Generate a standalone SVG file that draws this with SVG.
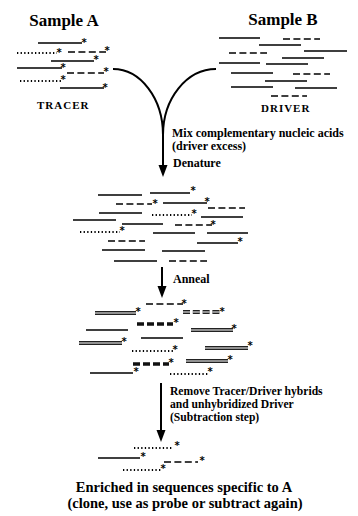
<svg xmlns="http://www.w3.org/2000/svg" width="358" height="516" viewBox="0 0 358 516">
<style>
text{font-family:"Liberation Serif","Times New Roman",serif;font-weight:bold;fill:#000}
.h{font-size:17px;text-anchor:middle}
.c{font-size:11px;letter-spacing:1px}
.l{font-size:12px}
.r{font-size:11.6px}
.e{font-size:14.5px;text-anchor:middle}
.st{font-family:"DejaVu Sans",sans-serif;font-size:10px;text-anchor:middle;opacity:.99}
.s,.d,.o,.t,.w1,.w2,.wd1,.wd2{fill:none}
.s{stroke:#000;stroke-width:1.6}
.d{stroke:#000;stroke-width:1.6;stroke-dasharray:7 3.4}
.o{stroke:#000;stroke-width:1.8;stroke-dasharray:1.3 2.3}
.t{stroke:#111;stroke-width:3.4;stroke-dasharray:7 3}
.w1{stroke:#222;stroke-width:3.8}
.w2{stroke:#fff;stroke-width:1.1}
.wd1{stroke:#222;stroke-width:3.8;stroke-dasharray:7 2.8}
.wd2{stroke:#fff;stroke-width:1.1;stroke-dasharray:7 2.8}
.cn{fill:none;stroke:#000;stroke-width:2}
.ah{fill:#000}
</style>
<g id="sampleA">
<text class="h" x="64" y="26">Sample A</text>
<path class="s" d="M38 43h44M51 61h43M17 68h45M60 88h44"/>
<path class="o" d="M17 53h40M20 81h42"/>
<path class="d" d="M68 52h38M67 73h37"/>
<text class="st" x="84" y="46">*</text>
<text class="st" x="59" y="56">*</text>
<text class="st" x="107" y="54">*</text>
<text class="st" x="96" y="63">*</text>
<text class="st" x="63" y="71">*</text>
<text class="st" x="106" y="75">*</text>
<text class="st" x="63" y="83">*</text>
<text class="st" x="105" y="91">*</text>
<text class="c" x="37" y="109">TRACER</text>
</g>
<g id="sampleB">
<text class="h" x="283" y="25">Sample B</text>
<path class="s" d="M219 38h41M259 45h42M304 51h43M282 58h42M219 63h41M266 64h42M231 73h42M265 81h42M231 87h42M295 88h42"/>
<path class="d" d="M283 39h37M229 53h38M293 74h37M271 96h36"/>
<text class="c" x="261" y="112">DRIVER</text>
</g>
<g id="denatured">
<path class="s" d="M98 195h44M150 193h40M163 203h44M99 213h43M201 217h42M73 220h43M122 224h41M153 233h42M207 233h41M197 243h41M102 250h43M162 251h43M114 261h43"/>
<path class="d" d="M116 204h36M208 208h37M175 225h37M108 241h37M169 261h38"/>
<path class="o" d="M152 215h40M80 232h40"/>
<text class="st" x="193" y="194">*</text>
<text class="st" x="155" y="207">*</text>
<text class="st" x="207" y="205">*</text>
<text class="st" x="194" y="217">*</text>
<text class="st" x="213" y="228">*</text>
<text class="st" x="122" y="234">*</text>
<text class="st" x="240" y="245">*</text>
</g>
<g id="annealed">
<path class="w1" d="M95 313h41M191 330h42M79 343h43M205 348h43M186 361h42"/>
<path class="w2" d="M95 313h41M191 330h42M79 343h43M205 348h43M186 361h42"/>
<path class="wd1" d="M183 312h37"/>
<path class="wd2" d="M183 312h37"/>
<path class="s" d="M86 330h42M141 338h42M90 373h43"/>
<path class="d" d="M146 304h37"/>
<path class="t" d="M137 324h36M133 364h36"/>
<path class="o" d="M132 351h41M170 374h38"/>
<text class="st" x="138" y="315">*</text>
<text class="st" x="184" y="307">*</text>
<text class="st" x="222" y="315">*</text>
<text class="st" x="176" y="326">*</text>
<text class="st" x="234" y="332">*</text>
<text class="st" x="124" y="345">*</text>
<text class="st" x="175" y="353">*</text>
<text class="st" x="250" y="349">*</text>
<text class="st" x="171" y="366">*</text>
<text class="st" x="230" y="363">*</text>
<text class="st" x="136" y="375">*</text>
<text class="st" x="210" y="375">*</text>
</g>
<g id="enriched">
<path class="o" d="M134 448h39M123 470h38"/>
<path class="s" d="M98 458h42"/>
<path class="d" d="M164 462h34"/>
<text class="st" x="177" y="449">*</text>
<text class="st" x="143" y="460">*</text>
<text class="st" x="202" y="464">*</text>
<text class="st" x="163" y="472">*</text>
<text class="e" x="184" y="492">Enriched in sequences specific to A</text>
<text class="e" x="185" y="508">(clone, use as probe or subtract again)</text>
</g>
<g id="labels">
<text class="l" x="172" y="137">Mix complementary nucleic acids</text>
<text class="l" x="172" y="150">(driver excess)</text>
<text class="l" x="173" y="167">Denature</text>
<text class="l" x="173" y="283">Anneal</text>
<text class="r" x="170" y="395">Remove Tracer/Driver hybrids</text>
<text class="r" x="170" y="408">and unhybridized Driver</text>
<text class="r" x="170" y="421">(Subtraction step)</text>
</g>
<g id="connectors">
<path class="cn" d="M113 69A50 66 0 0 1 163 135V166M216 69A53 66 0 0 0 163 135"/>
<polygon class="ah" points="158.5,165 167.5,165 163,177"/>
<path class="cn" d="M162 267V287"/>
<polygon class="ah" points="157.5,286 166.5,286 162,298"/>
<path class="cn" d="M161 383V431"/>
<polygon class="ah" points="156.5,430 165.5,430 161,442"/>
</g>
</svg>
